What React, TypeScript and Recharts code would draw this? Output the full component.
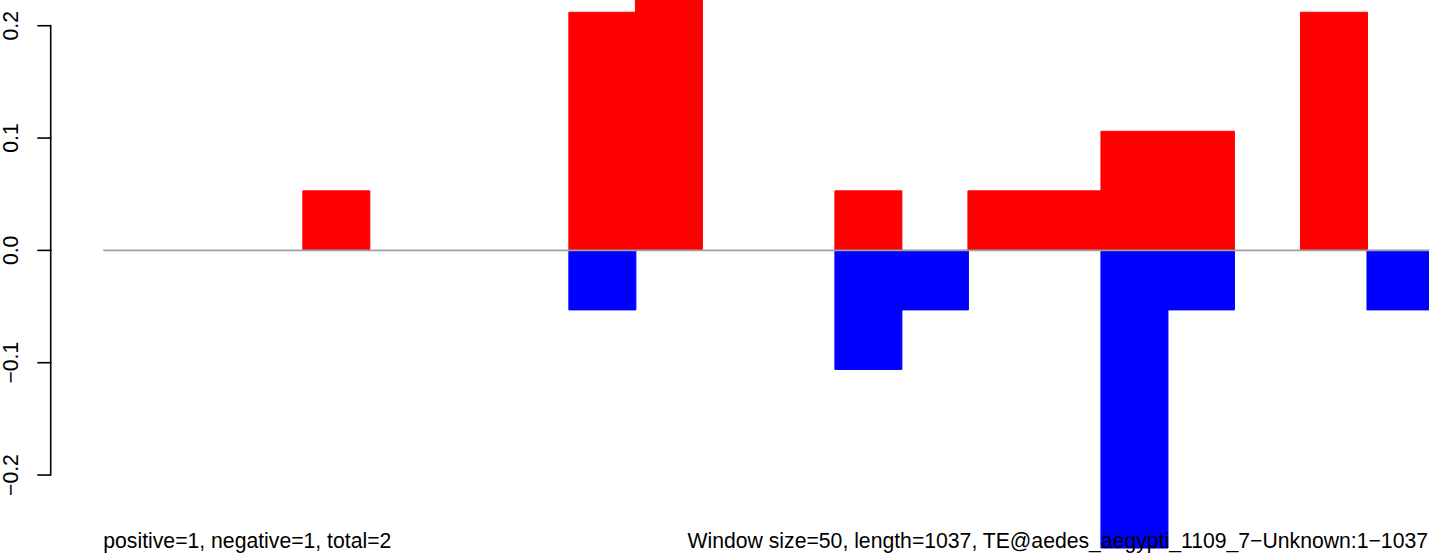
import React from 'react';
import { BarChart, Bar, XAxis, YAxis, ReferenceLine } from 'recharts';

// ---- data ----
const windowStarts = [1, 51, 101, 151, 201, 251, 301, 351, 401, 451, 501, 551, 601, 651, 701, 751, 801, 851, 901, 951, 1001];
const positiveFraction = [0, 0, 0, 0.053, 0, 0, 0, 0.212, 0.265, 0, 0, 0.053, 0, 0.053, 0.053, 0.106, 0.106, 0, 0.212, 0, 0];
const negativeFraction = [0, 0, 0, 0, 0, 0, 0, -0.053, 0, 0, 0, -0.106, -0.053, 0, 0, -0.265, -0.053, 0, 0, -0.053, 0];
const yTicks = [-0.2, -0.1, 0, 0.1, 0.2];
const yTickLabels = ['\u22120.2', '\u22120.1', '0.0', '0.1', '0.2'];
const leftCaption = 'positive=1, negative=1, total=2';
const rightCaption = 'Window size=50, length=1037, TE@aedes_aegypti_1109_7\u2212Unknown:1\u22121037';

const data = windowStarts.map((s, i) => ({
  window: s,
  positive: positiveFraction[i],
  negative: negativeFraction[i],
}));

// ---- layout ----
const VIEW_W = 1429;
const VIEW_H = 554;
const CHART_W = 1500;
const CHART_H = 554;
const AXIS_X = 50.7;
const PAD_LEFT = 52.6;
const Y_MIN = -0.2703;
const Y_MAX = 0.2229;
const TICK_LEN = 13.4;
const LABEL_X = 18.5;
const FONT = '"Liberation Sans", Arial, Helvetica, sans-serif';
const FONT_SIZE = 21.2;
const STEP_PX = (CHART_H * 0.1) / (Y_MAX - Y_MIN);

const renderYTick = (props: any) => {
  const { y, payload } = props;
  const v = payload.value;
  const idx = yTicks.indexOf(v);
  const label = yTickLabels[idx];
  const isLowest = v === Math.min(...yTicks);
  return (
    <g>
      <line x1={AXIS_X - TICK_LEN} x2={AXIS_X} y1={y} y2={y} stroke="#000" strokeWidth={1.6} />
      {!isLowest && (
        <line x1={AXIS_X} x2={AXIS_X} y1={y - 0.8} y2={y + STEP_PX + 0.8} stroke="#000" strokeWidth={1.6} />
      )}
      <text
        x={LABEL_X}
        y={y}
        transform={`rotate(-90 ${LABEL_X} ${y})`}
        textAnchor="middle"
        fontFamily={FONT}
        fontSize={FONT_SIZE}
        fill="#000"
      >
        {label}
      </text>
    </g>
  );
};

const zeroLineShape = (props: any) => {
  const { x2, y1 } = props;
  return <line x1={AXIS_X + PAD_LEFT} x2={x2} y1={y1} y2={y1} stroke="#a0a0a0" strokeWidth={1.6} />;
};

export default function App() {
  return (
    <div
      style={{
        position: 'absolute',
        left: 0,
        top: 0,
        width: VIEW_W,
        height: VIEW_H,
        overflow: 'hidden',
        background: '#fff',
      }}
    >
      <BarChart
        width={CHART_W}
        height={CHART_H}
        data={data}
        margin={{ top: 0, right: 0, bottom: 0, left: 0 }}
        stackOffset="sign"
        barCategoryGap={0}
        barGap={0}
      >
        <XAxis dataKey="window" hide padding={{ left: PAD_LEFT, right: 0 }} />
        <YAxis
          width={AXIS_X}
          type="number"
          domain={[Y_MIN, Y_MAX]}
          allowDataOverflow
          ticks={yTicks}
          interval={0}
          axisLine={false}
          tickLine={false}
          tick={renderYTick}
        />
        <ReferenceLine y={0} shape={zeroLineShape} />
        <Bar dataKey="positive" stackId="s" fill="#FF0000" stroke="#FF0000" strokeWidth={1} isAnimationActive={false} />
        <Bar dataKey="negative" stackId="s" fill="#0000FF" stroke="#0000FF" strokeWidth={1} isAnimationActive={false} />
      </BarChart>
      <svg
        width={VIEW_W}
        height={VIEW_H}
        style={{ position: 'absolute', left: 0, top: 0, pointerEvents: 'none' }}
      >
        <text x={103.3} y={548} fontFamily={FONT} fontSize={FONT_SIZE} fill="#000" textAnchor="start">
          {leftCaption}
        </text>
        <text x={1428} y={548} fontFamily={FONT} fontSize={FONT_SIZE} fill="#000" textAnchor="end">
          {rightCaption}
        </text>
      </svg>
    </div>
  );
}
